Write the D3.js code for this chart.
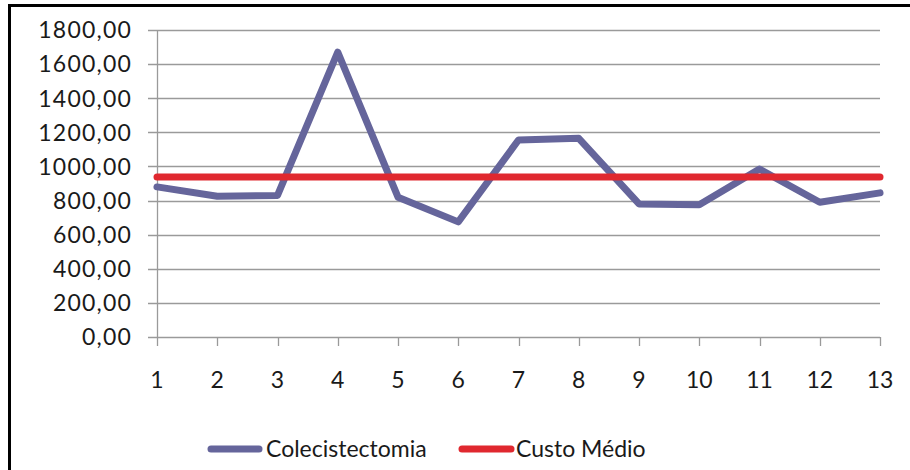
<!DOCTYPE html>
<html>
<head>
<meta charset="utf-8">
<script src="https://cdn.jsdelivr.net/npm/d3@7"></script>
<style>
  html, body { margin: 0; padding: 0; background: #fff; }
  svg { display: block; }
  text { font-family: Lato, "Open Sans", sans-serif; fill: #1a1a1a; }
</style>
</head>
<body>
<svg id="chart" width="910" height="470"></svg>
<script>
const categories = ["1","2","3","4","5","6","7","8","9","10","11","12","13"];
const colecistectomia = [880, 825, 830, 1670, 820, 675, 1155, 1165, 780, 775, 985, 790, 845];
const custoMedio = [938, 938, 938, 938, 938, 938, 938, 938, 938, 938, 938, 938, 938];
const yTicks = [0, 200, 400, 600, 800, 1000, 1200, 1400, 1600, 1800];
const seriesNames = ["Colecistectomia", "Custo Médio"];
const seriesColors = ["#65659B", "#E0282F"];

const svg = d3.select("#chart");

// frame (top and left border)
svg.append("line").attr("x1", 8).attr("x2", 910).attr("y1", 5.5).attr("y2", 5.5)
  .attr("stroke", "#000").attr("stroke-width", 3);
svg.append("line").attr("x1", 9.5).attr("x2", 9.5).attr("y1", 4).attr("y2", 470)
  .attr("stroke", "#000").attr("stroke-width", 3);

const plotLeft = 157, plotRight = 880, plotTop = 30, plotBottom = 337;

const x = d3.scalePoint().domain(categories).range([plotLeft, plotRight]);
const y = d3.scaleLinear().domain([0, 1800]).range([plotBottom, plotTop]);

const fmt = v => d3.format(".2f")(v).replace(".", ",");

// gridlines
svg.append("g").selectAll("line").data(yTicks).join("line")
  .attr("x1", plotLeft - 9).attr("x2", plotRight)
  .attr("y1", d => Math.round(y(d)) + 0.5).attr("y2", d => Math.round(y(d)) + 0.5)
  .attr("stroke", "#9a9a9a").attr("stroke-width", 1.3);

// y axis line
svg.append("line").attr("x1", plotLeft + 0.5).attr("x2", plotLeft + 0.5)
  .attr("y1", plotTop).attr("y2", plotBottom)
  .attr("stroke", "#9a9a9a").attr("stroke-width", 1.3);

// y labels
svg.append("g").selectAll("text").data(yTicks).join("text")
  .attr("x", 132).attr("y", d => y(d))
  .attr("dy", "0.36em")
  .attr("text-anchor", "end")
  .attr("font-size", 23)
  .attr("letter-spacing", 1.2)
  .text(d => fmt(d));

// x ticks
svg.append("g").selectAll("line").data(categories).join("line")
  .attr("x1", d => Math.round(x(d)) + 0.5).attr("x2", d => Math.round(x(d)) + 0.5)
  .attr("y1", plotBottom).attr("y2", plotBottom + 9)
  .attr("stroke", "#9a9a9a").attr("stroke-width", 1.3);

// x labels
svg.append("g").selectAll("text").data(categories).join("text")
  .attr("x", d => x(d)).attr("y", 388)
  .attr("text-anchor", "middle")
  .attr("font-size", 23)
  .text(d => d);

// lines
const line = d3.line().x((d, i) => x(categories[i])).y(d => y(d));

svg.append("path").datum(colecistectomia)
  .attr("d", line).attr("fill", "none")
  .attr("stroke", seriesColors[0]).attr("stroke-width", 7)
  .attr("stroke-linejoin", "round").attr("stroke-linecap", "round");

svg.append("path").datum(custoMedio)
  .attr("d", line).attr("fill", "none")
  .attr("stroke", seriesColors[1]).attr("stroke-width", 7)
  .attr("stroke-linejoin", "round").attr("stroke-linecap", "round");

// legend
const legendItems = [
  { name: seriesNames[0], color: seriesColors[0], x1: 211, x2: 259, tx: 266 },
  { name: seriesNames[1], color: seriesColors[1], x1: 462, x2: 511, tx: 516 }
];
const lg = svg.append("g");
lg.selectAll("line").data(legendItems).join("line")
  .attr("x1", d => d.x1).attr("x2", d => d.x2)
  .attr("y1", 449).attr("y2", 449)
  .attr("stroke", d => d.color).attr("stroke-width", 7)
  .attr("stroke-linecap", "round");
lg.selectAll("text").data(legendItems).join("text")
  .attr("x", d => d.tx).attr("y", 457)
  .attr("font-size", 23)
  .text(d => d.name);
</script>
</body>
</html>
